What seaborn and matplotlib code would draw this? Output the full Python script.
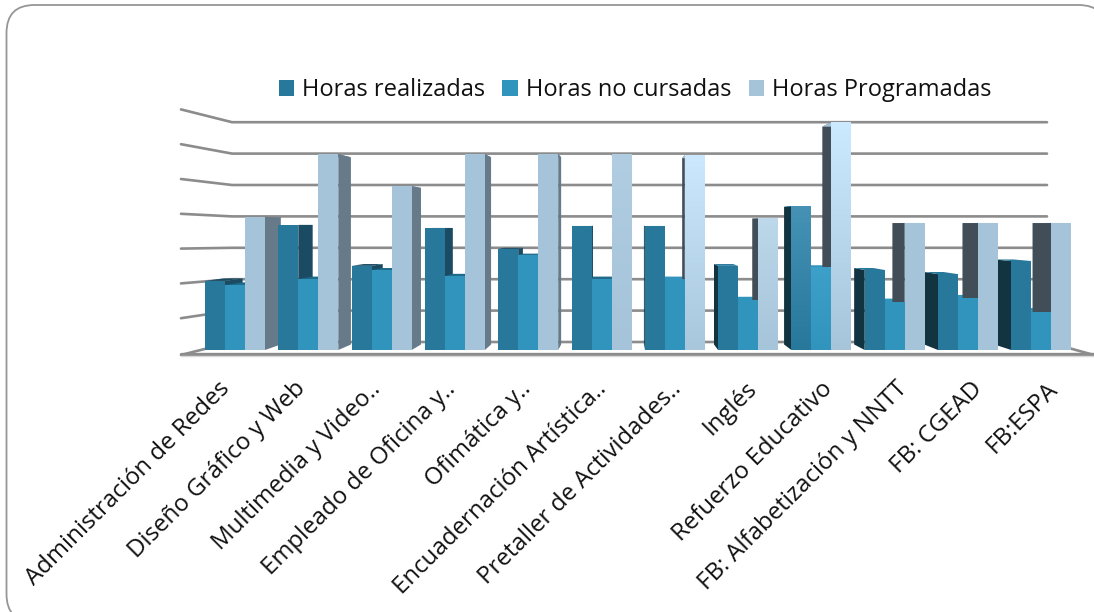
import numpy as np
import pandas as pd
import matplotlib.pyplot as plt
import seaborn as sns
from matplotlib.colors import LinearSegmentedColormap
from matplotlib.patches import FancyBboxPatch, Polygon
from matplotlib.transforms import IdentityTransform

cursos = ['Administración de Redes', 'Diseño Gráfico y Web', 'Multimedia y Video..',
          'Empleado de Oficina y..', 'Ofimática y..', 'Encuadernación Artística..',
          'Pretaller de Actividades..', 'Inglés', 'Refuerzo Educativo',
          'FB: Alfabetización y NNTT', 'FB: CGEAD', 'FB:ESPA']
realizadas = [216, 391, 263, 381, 316, 388, 388, 263, 450, 250, 237, 278]
no_cursadas = [203, 222, 250, 231, 297, 222, 222, 156, 259, 150, 162, 119]
programadas = [416, 612, 512, 612, 612, 612, 609, 412, 712, 397, 397, 397]
series = ['Horas realizadas', 'Horas no cursadas', 'Horas Programadas']
grid_levels = np.arange(1, 8)

colores = ['#27789b', '#3194bc', '#a5c3d9']
lado_izq = ['#1a4b63', '#1f6a88', '#667a8a']
lado_der = ['#123340', '#1b5f7c', '#414e57']
degradados = {(2, 6): ('#cbe8ff', '#a8c6dc'), (2, 8): ('#cbe9ff', '#a6c4da'),
              (2, 7): ('#bcd8ea', '#a6c4da'), (2, 5): ('#b0cde2', '#a5c3d9'),
              (0, 8): ('#4592b5', '#27789b'), (1, 8): ('#3ca0c8', '#3194bc')}

# pixel layout of the picture
W, H = 1094, 612
PX_HORA = 0.32
PASO = 73.3
X0, Y0 = 235, 350
FUGA = 0.044


def dx(px):
    return (px - X0) / PASO


def dy(py):
    return (Y0 - py) / PX_HORA


sns.set_style('white')
plt.rcParams['font.family'] = ['Open Sans', 'DejaVu Sans']

fig = plt.figure(figsize=(W / 100, H / 100), dpi=100)
ax = fig.add_axes([0, 0, 1, 1])
ax.patch.set_visible(False)

marco = FancyBboxPatch((6.5, H - 622), 1100, 617, boxstyle='round,pad=0,rounding_size=28',
                       transform=IdentityTransform(), fc='white', ec='#969696', lw=1.3, zorder=-1)
fig.add_artist(marco)

df = pd.DataFrame({'curso': cursos, series[0]: realizadas, series[1]: no_cursadas,
                   series[2]: programadas}).melt(id_vars='curso', var_name='tipo', value_name='horas')
sns.barplot(data=df, x='curso', y='horas', hue='tipo', hue_order=series, order=cursos,
            palette=colores, saturation=1, width=60 / PASO, gap=0, linewidth=0,
            edgecolor='none', ax=ax, zorder=4)

# back wall lines and the left wall
fuga_x, fuga_y = dx(625), dy(225)
for n in grid_levels:
    atras = dy(342 - 31.4 * n)
    frente = dy(353 - 34.8 * n)
    ax.plot([dx(181), dx(232), dx(1047)], [frente, atras, atras], color='#8c8c8c', lw=1.9,
            solid_joinstyle='round', zorder=1)
ax.plot([dx(181), dx(232), dx(1047), dx(1094)], [dy(355), dy(342), dy(342), dy(355)],
        color='#8c8c8c', lw=1.9, zorder=1)
ax.plot([dx(181), dx(1094)], [dy(354), dy(354)], color='#8c8c8c', lw=2.4, zorder=1)
ax.plot([dx(181), dx(1094)], [dy(356), dy(356)], color='#d8d8d8', lw=1, zorder=1)

# depth faces taken from the bars themselves
for h, cont in enumerate(ax.containers):
    for g, bar in enumerate(cont.patches):
        x1, x2 = bar.get_x(), bar.get_x() + bar.get_width()
        alto = bar.get_height()
        izquierda = x1 < fuga_x
        xf = x2 if izquierda else x1
        color = lado_izq[h] if izquierda else lado_der[h]
        fondo = lambda x, y: (x + FUGA * (fuga_x - x), y + FUGA * (fuga_y - y))
        ax.add_patch(Polygon([(xf, 0), (xf, alto), fondo(xf, alto), fondo(xf, 0)],
                             fc=color, ec='none', zorder=3))
        ax.add_patch(Polygon([(x1, alto), (x2, alto), fondo(x2, alto), fondo(x1, alto)],
                             fc=lado_izq[h] if izquierda else colores[h], ec='none', zorder=3))
        if (h, g) in degradados:
            cmap = LinearSegmentedColormap.from_list('g', degradados[(h, g)])
            ax.imshow(np.linspace(0, 1, 128).reshape(-1, 1), cmap=cmap, aspect='auto',
                      extent=(x1, x2, 0, alto), origin='upper', zorder=5)

ax.set_xlim(dx(0), dx(W))
ax.set_ylim(dy(H), dy(0))
ax.set_xlabel('')
ax.set_ylabel('')
ax.set_yticks([])
ax.tick_params(axis='x', length=0, pad=0)
for s in ax.spines.values():
    s.set_visible(False)
# label ends are spaced a little wider than the bar groups
ax.set_xticks(dx(np.linspace(218, 1046, len(cursos))))
ax.set_xticklabels(cursos, rotation=45, ha='right', va='top', rotation_mode='anchor',
                   fontsize=17.3, color='#111111')
# tick labels hang below the floor line, not below the axes edge
for lab in ax.get_xticklabels():
    lab.set_y((H - 377) / H)

sns.move_legend(ax, 'center left', bbox_to_anchor=(257.5 / W, (H - 90) / H), ncol=3, frameon=False,
                title=None, fontsize=17, handlelength=0.65, handleheight=0.65,
                handletextpad=0.35, columnspacing=0.72, labelcolor='#111111')

fig.savefig('out.png', dpi=100)
